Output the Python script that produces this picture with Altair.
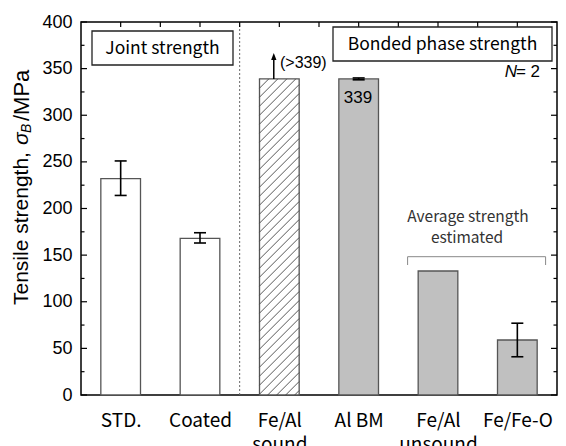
import json
import altair as alt
import pandas as pd

# ---------------- data ----------------
categories = ["STD.", "Coated", "Fe/Al\nsound", "Al BM", "Fe/Al\nunsound", "Fe/Fe-O"]
strength = [232, 168, 339, 339, 133, 59]
err_low = [214, 163, None, 338, None, 41]
err_high = [251, 174, None, 340, None, 77]
fill_kind = ["open", "open", "hatch", "grey", "grey", "grey"]
y_major = [0, 50, 100, 150, 200, 250, 300, 350, 400]
y_minor = [25, 75, 125, 175, 225, 275, 325, 375]
x_ticks = [0.5, 1.0, 1.5, 2.0, 2.5, 3.0, 3.5, 4.0, 4.5, 5.0, 5.5]
arrow_top = 363  # arrow above the "Fe/Al sound" bar (>339)

# ---------------- layout ----------------
W, H = 476, 373
STEP = W / 6.0
PPM = H / 400.0
LABEL_FONT = "Noto Sans CJK JP"
NUM_FONT = "Liberation Sans"
NB = "\u00a0"

xscale = alt.Scale(domain=[0, 6], nice=False, zero=False)
yscale = alt.Scale(domain=[0, 400], nice=False, zero=True)

df = pd.DataFrame({
    "cat": categories,
    "pos": [i + 0.5 for i in range(len(categories))],
    "value": strength,
    "lo": err_low,
    "hi": err_high,
    "kind": fill_kind,
})

label_expr = "split(" + json.dumps(categories) + "[floor(datum.value)], '\\n')"

bars = alt.Chart(df).transform_calculate(
    x0="datum.pos - 0.25", x1="datum.pos + 0.25"
).mark_rect(stroke="#555555", strokeWidth=1.3).encode(
    x=alt.X("x0:Q", scale=xscale, axis=alt.Axis(
        values=[i + 0.5 for i in range(len(categories))], labelExpr=label_expr,
        ticks=False, domain=False, grid=False, title=None, labelFontSize=19,
        labelFont=LABEL_FONT, labelColor="black", labelPadding=16,
        labelLineHeight=24, labelOverlap=False, labelFlush=False)),
    x2="x1:Q",
    y=alt.Y("value:Q", scale=yscale, axis=alt.Axis(
        values=y_major, ticks=False, domain=False, grid=False, title=None,
        labelFontSize=18, labelFont=NUM_FONT, labelColor="black",
        labelPadding=9, labelOverlap=False, labelFlush=False)),
    y2=alt.datum(0),
    fill=alt.Fill("kind:N", scale=alt.Scale(domain=["open", "hatch", "grey"],
                                            range=["white", "white", "#c0c0c0"]),
                  legend=None),
)

# hatch lines for the hatched bar (45 degree, computed from the bar geometry)
hatch_rows = []
for i, k in enumerate(fill_kind):
    if k != "hatch":
        continue
    w_px = 0.5 * STEP
    h_px = strength[i] * PPM
    spacing = 9.0
    c = -w_px + spacing / 2
    while c < h_px:
        u0 = max(0.0, -c)
        u1 = min(w_px, h_px - c)
        if u1 > u0:
            hatch_rows.append({
                "x": i + 0.25 + u0 / STEP, "x2": i + 0.25 + u1 / STEP,
                "y": (u0 + c) / PPM, "y2": (u1 + c) / PPM,
            })
        c += spacing
hatch = alt.Chart(pd.DataFrame(hatch_rows)).mark_rule(
    color="#444444", strokeWidth=0.9).encode(
    x=alt.X("x:Q", scale=xscale), x2="x2:Q",
    y=alt.Y("y:Q", scale=yscale), y2="y2:Q")

# dotted separator
sep = alt.Chart(pd.DataFrame({"v": [2.0], "a": [0], "b": [400]})).mark_rule(
    color="#666666", strokeDash=[2, 2], strokeWidth=1).encode(
    x=alt.X("v:Q", scale=xscale),
    y=alt.Y("a:Q", scale=yscale), y2="b:Q")

# error bars
df_err = df.dropna(subset=["lo", "hi"])
err_line = alt.Chart(df_err).mark_rule(color="black", strokeWidth=1.6).encode(
    x=alt.X("pos:Q", scale=xscale),
    y=alt.Y("lo:Q", scale=yscale), y2="hi:Q")
err_caps = alt.Chart(df_err).transform_fold(["lo", "hi"], as_=["which", "yv"]).mark_rule(
    color="black", strokeWidth=1.6, xOffset=-6, x2Offset=6).encode(
    x=alt.X("pos:Q", scale=xscale), x2="pos:Q",
    y=alt.Y("yv:Q", scale=yscale))

# arrow on hatched bar
df_arrow = pd.DataFrame({"pos": [2.5 - 0.07], "base": [strength[2]], "top": [arrow_top]})
arrow_line = alt.Chart(df_arrow).mark_rule(color="black", strokeWidth=1.5).encode(
    x=alt.X("pos:Q", scale=xscale),
    y=alt.Y("base:Q", scale=yscale), y2="top:Q")
arrow_head = alt.Chart(df_arrow).mark_point(
    shape="M0,-1L0.75,1L-0.75,1Z", filled=True, color="black", size=50, opacity=1).encode(
    x=alt.X("pos:Q", scale=xscale),
    y=alt.Y("top:Q", scale=yscale))


# ticks (inward)
def yticks(vals, x0, x1):
    return alt.Chart(pd.DataFrame({"v": vals})).mark_rule(color="black", strokeWidth=1.2).encode(
        y=alt.Y("v:Q", scale=yscale), x=alt.value(x0), x2=alt.value(x1))


tick_top = alt.Chart(pd.DataFrame({"v": x_ticks})).mark_rule(color="black", strokeWidth=1.2).encode(
    x=alt.X("v:Q", scale=xscale), y=alt.value(0), y2=alt.value(5))


def txt(s, x, y, size=16, font=LABEL_FONT, align="center", baseline="middle",
        color="black", style="normal", angle=0):
    kw = dict(fontSize=size, font=font, align=align, baseline=baseline,
              color=color, fontStyle=style)
    if angle:
        kw["angle"] = angle
    return alt.Chart(pd.DataFrame({"t": [s]})).mark_text(**kw).encode(
        x=alt.value(x), y=alt.value(y), text="t:N")


def box(x0, x1, y0, y1):
    return alt.Chart(pd.DataFrame({"a": [0]})).mark_rect(
        fill="white", stroke="#222222", strokeWidth=1.3).encode(
        x=alt.value(x0), x2=alt.value(x1), y=alt.value(y0), y2=alt.value(y1))


def seg(x0, x1, y0, y1, color="#888888"):
    return alt.Chart(pd.DataFrame({"a": [0]})).mark_rule(color=color, strokeWidth=1).encode(
        x=alt.value(x0), x2=alt.value(x1), y=alt.value(y0), y2=alt.value(y1))


annot = [
    box(11, 152, 9, 43),
    txt("Joint strength", 81.5, 26.5, size=17.5),
    box(252, 471, 5, 39),
    txt("Bonded phase strength", 361.5, 22.5, size=17.5),
    txt("=" + NB + "2", 459, 50, size=17, font=NUM_FONT, align="right"),
    txt("N", 436, 50, size=17, font=NUM_FONT, align="right", style="italic"),
    txt("(>339)", 199, 41, size=16, font=NUM_FONT, align="left"),
    txt(str(strength[3]), 277, 76, size=17, font=NUM_FONT),
    txt("Average strength", 387, 195, size=15.5, color="#333333"),
    txt("estimated", 386, 216, size=15.5, color="#333333"),
    # bracket over the estimated group
    seg(326.6, 464.6, 234.7, 234.7),
    seg(326.6, 326.6, 234.7, 243.0),
    seg(464.6, 464.6, 234.7, 243.0),
]

# y-axis title built from pieces (italic sigma with subscript B)
TX = -59
TY = -5
title_parts = [
    txt("Tensile strength," + NB, TX, 288 + TY, size=21, font=NUM_FONT, align="left", angle=270),
    txt("σ", TX, 128 + TY, size=21, font=NUM_FONT, align="left", angle=270, style="italic"),
    txt("B", TX + 5, 116 + TY, size=14, font=NUM_FONT, align="left", angle=270, style="italic"),
    txt(NB + "/MPa", TX, 104 + TY, size=22, font=NUM_FONT, align="left", angle=270),
]

chart = alt.layer(
    bars, hatch, sep, err_line, err_caps, arrow_line, arrow_head,
    yticks(y_major, 0, 6), yticks(y_minor, 0, 3.5),
    yticks(y_major, W, W - 6), yticks(y_minor, W, W - 3.5), tick_top,
    *annot, *title_parts,
).properties(
    width=W, height=H,
    padding={"left": 73, "top": 14, "right": 1, "bottom": 51},
    autosize=alt.AutoSizeParams(type="none"),
).configure_view(stroke="black", strokeWidth=1.5)

chart.save("out.html", embed_options={"renderer": "svg", "actions": False})
